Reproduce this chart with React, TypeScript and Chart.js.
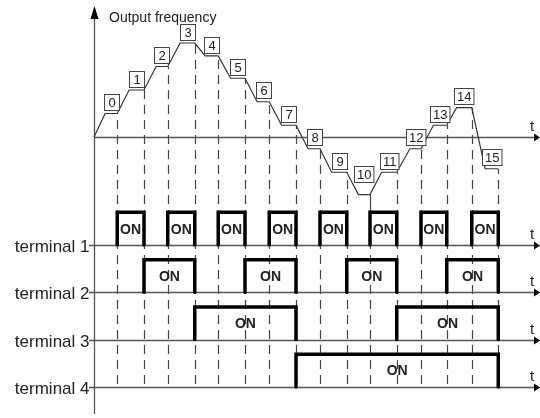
import React, { useEffect, useRef } from 'react';
import { Chart, registerables } from 'chart.js';

Chart.register(...registerables);

// ---- data ----
const stepLabels = ['0', '1', '2', '3', '4', '5', '6', '7', '8', '9', '10', '11', '12', '13', '14', '15'];
// times where each step ends (index 0 = start of time)
const stepBoundaries = [0, 0.92, 1.98, 2.92, 3.99, 4.92, 5.98, 6.94, 8.0, 8.95, 10.01, 10.93, 11.99, 12.95, 13.97, 14.96, 16.01];
// times where the acceleration / deceleration ramp reaches the step frequency
const plateauStarts = [0.44, 1.39, 2.46, 3.41, 4.4, 5.41, 6.46, 7.43, 8.48, 9.41, 10.47, 11.39, 12.51, 13.44, 14.36, 15.49];
// output frequency of each step (relative units)
const frequencyLevels = [10, 20, 30, 40, 34.5, 25, 15, 5, -5, -15, -24.5, -15, -5, 5, 12.5, -13.5];

const terminalNames = ['terminal 1', 'terminal 2', 'terminal 3', 'terminal 4'];
const terminal1 = [0, 1, 0, 1, 0, 1, 0, 1, 0, 1, 0, 1, 0, 1, 0, 1];
const terminal2 = [0, 0, 1, 1, 0, 0, 1, 1, 0, 0, 1, 1, 0, 0, 1, 1];
const terminal3 = [0, 0, 0, 0, 1, 1, 1, 1, 0, 0, 0, 0, 1, 1, 1, 1];
const terminal4 = [0, 0, 0, 0, 0, 0, 0, 0, 1, 1, 1, 1, 1, 1, 1, 1];
const terminalStates = [terminal1, terminal2, terminal3, terminal4];

const onLabel = 'ON';
const axisTitle = 'Output frequency';
const timeLabel = 't';

// ---- layout constants ----
const W = 540;
const H = 418;
const X_MIN = -3.723;
const X_MAX = 17.663;
const Y_MIN = -119.57;
const Y_MAX = 58.3;
const YT_MIN = -4.6575;
const YT_MAX = 4.1797;
const ON_HEIGHT = 0.69;
const FONT = '"Liberation Sans", Arial, Helvetica, sans-serif';
const GRAY = '#555';
const AXIS_END = 535;

function buildFrequencyPoints() {
  const pts: { x: number; y: number }[] = [{ x: stepBoundaries[0], y: 0 }];
  for (let k = 0; k < frequencyLevels.length; k++) {
    pts.push({ x: plateauStarts[k], y: frequencyLevels[k] });
    pts.push({ x: stepBoundaries[k + 1], y: frequencyLevels[k] });
  }
  return pts;
}

function buildTerminalPoints(states: number[], row: number) {
  const base = -(row + 1);
  const high = base + ON_HEIGHT;
  const pts: { x: number; y: number | null }[] = [];
  let k = 0;
  while (k < states.length) {
    if (states[k] === 1) {
      let e = k;
      while (e + 1 < states.length && states[e + 1] === 1) e++;
      const x0 = stepBoundaries[k];
      const x1 = stepBoundaries[e + 1];
      pts.push({ x: x0, y: base }, { x: x0, y: high }, { x: x1, y: high }, { x: x1, y: base });
      pts.push({ x: (x1 + x1) / 2, y: null });
      k = e + 1;
    } else k++;
  }
  return pts;
}

function isLocalMin(k: number) {
  return k > 0 && k < frequencyLevels.length - 1 &&
    frequencyLevels[k] < frequencyLevels[k - 1] && frequencyLevels[k] < frequencyLevels[k + 1];
}

const diagramPlugin = {
  id: 'timingDiagram',
  beforeDatasetsDraw(chart: any) {
    const ctx: CanvasRenderingContext2D = chart.ctx;
    const xs = chart.scales.x;
    const ys = chart.scales.y;
    const yt = chart.scales.yT;
    const x0 = xs.getPixelForValue(0);
    ctx.save();

    // dashed step boundaries
    ctx.strokeStyle = '#444';
    ctx.lineWidth = 1.2;
    const bottom = yt.getPixelForValue(-terminalNames.length);
    for (let k = 1; k < stepBoundaries.length; k++) {
      const x = Math.round(xs.getPixelForValue(stepBoundaries[k])) + 0.5;
      let top = ys.getPixelForValue(frequencyLevels[k - 1]);
      if (isLocalMin(k - 1)) {
        const t1 = yt.getPixelForValue(-1 + ON_HEIGHT);
        ctx.setLineDash([]);
        ctx.beginPath();
        ctx.moveTo(x, top);
        ctx.lineTo(x, t1);
        ctx.stroke();
        top = t1;
      }
      ctx.setLineDash([9, 6]);
      ctx.lineDashOffset = top % 15;
      ctx.beginPath();
      ctx.moveTo(x, top);
      ctx.lineTo(x, bottom);
      ctx.stroke();
    }
    ctx.setLineDash([]);

    // horizontal time axes
    ctx.strokeStyle = GRAY;
    ctx.lineWidth = 1.3;
    const fy = Math.round(ys.getPixelForValue(0)) + 0.5;
    ctx.beginPath();
    ctx.moveTo(x0, fy);
    ctx.lineTo(AXIS_END, fy);
    ctx.stroke();
    for (let i = 0; i < terminalNames.length; i++) {
      const by = Math.round(yt.getPixelForValue(-(i + 1))) + 0.5;
      ctx.beginPath();
      ctx.moveTo(x0 - 5, by);
      ctx.lineTo(AXIS_END, by);
      ctx.stroke();
    }

    // vertical frequency axis
    ctx.beginPath();
    ctx.moveTo(Math.round(x0) + 0.5, 16);
    ctx.lineTo(Math.round(x0) + 0.5, 414);
    ctx.stroke();
    ctx.restore();
  },
  afterDatasetsDraw(chart: any) {
    const ctx: CanvasRenderingContext2D = chart.ctx;
    const xs = chart.scales.x;
    const ys = chart.scales.y;
    const yt = chart.scales.yT;
    const x0 = Math.round(xs.getPixelForValue(0)) + 0.5;
    ctx.save();

    // step number boxes
    ctx.font = `13px ${FONT}`;
    ctx.textAlign = 'center';
    ctx.textBaseline = 'middle';
    for (let k = 0; k < stepLabels.length; k++) {
      const a = xs.getPixelForValue(plateauStarts[k]);
      const b = xs.getPixelForValue(stepBoundaries[k + 1]);
      const py = ys.getPixelForValue(frequencyLevels[k]);
      const cx = (a + b) / 2;
      const tw = ctx.measureText(stepLabels[k]).width;
      const bw = Math.max(15, tw + 5);
      const bh = 16;
      const lift = isLocalMin(k) ? 12.3 : 3.3;
      const by = py - lift - bh;
      const bx = Math.round(cx - bw / 2) + 0.5;
      const byr = Math.round(by) + 0.5;
      ctx.fillStyle = '#fff';
      ctx.fillRect(bx, byr, bw, bh);
      ctx.strokeStyle = '#444';
      ctx.lineWidth = 1;
      ctx.strokeRect(bx, byr, bw, bh);
      ctx.fillStyle = '#222';
      ctx.fillText(stepLabels[k], bx + bw / 2, byr + bh / 2 + 1);
    }

    // ON labels
    ctx.font = `bold 14px ${FONT}`;
    ctx.fillStyle = '#222';
    terminalStates.forEach((states, i) => {
      const base = -(i + 1);
      const midY = yt.getPixelForValue(base + ON_HEIGHT / 2);
      let k = 0;
      while (k < states.length) {
        if (states[k] === 1) {
          let e = k;
          while (e + 1 < states.length && states[e + 1] === 1) e++;
          const a = xs.getPixelForValue(stepBoundaries[k]);
          const b = xs.getPixelForValue(stepBoundaries[e + 1]);
          ctx.fillText(onLabel, (a + b) / 2, midY + 1);
          k = e + 1;
        } else k++;
      }
    });

    // terminal names
    ctx.font = `17px ${FONT}`;
    ctx.textAlign = 'right';
    ctx.textBaseline = 'alphabetic';
    ctx.fillStyle = '#222';
    terminalNames.forEach((name, i) => {
      const by = yt.getPixelForValue(-(i + 1));
      ctx.fillText(name, x0 - 5, by + 7);
    });

    // axis title
    ctx.font = `14px ${FONT}`;
    ctx.textAlign = 'left';
    ctx.fillText(axisTitle, 109, 21.5);

    // arrows and t labels
    ctx.fillStyle = '#000';
    ctx.beginPath();
    ctx.moveTo(x0, 6);
    ctx.lineTo(x0 - 4, 19);
    ctx.lineTo(x0 + 4, 19);
    ctx.closePath();
    ctx.fill();

    const axisYs = [ys.getPixelForValue(0)];
    for (let i = 0; i < terminalNames.length; i++) axisYs.push(yt.getPixelForValue(-(i + 1)));
    ctx.font = `15px ${FONT}`;
    ctx.textAlign = 'center';
    axisYs.forEach((y) => {
      const yy = Math.round(y) + 0.5;
      ctx.fillStyle = '#000';
      ctx.beginPath();
      ctx.moveTo(540, yy);
      ctx.lineTo(534, yy - 4);
      ctx.lineTo(534, yy + 4);
      ctx.closePath();
      ctx.fill();
      ctx.fillStyle = '#222';
      ctx.fillText(timeLabel, 532, yy - 7);
    });
    ctx.restore();
  },
};

export default function App() {
  const canvasRef = useRef<HTMLCanvasElement | null>(null);

  useEffect(() => {
    const canvas = canvasRef.current;
    if (!canvas) return;
    const datasets: any[] = [
      {
        label: 'Output frequency',
        data: buildFrequencyPoints(),
        xAxisID: 'x',
        yAxisID: 'y',
        borderColor: '#333',
        borderWidth: 1.2,
        pointRadius: 0,
        tension: 0,
        fill: false,
      },
    ];
    terminalStates.forEach((states, i) => {
      datasets.push({
        label: terminalNames[i],
        data: buildTerminalPoints(states, i),
        xAxisID: 'x',
        yAxisID: 'yT',
        borderColor: '#000',
        borderWidth: 3.5,
        borderCapStyle: 'round',
        borderJoinStyle: 'miter',
        pointRadius: 0,
        tension: 0,
        fill: false,
        spanGaps: false,
      });
    });

    const chart = new Chart(canvas, {
      type: 'line',
      data: { datasets },
      options: {
        animation: false,
        responsive: false,
        maintainAspectRatio: false,
        devicePixelRatio: 1,
        layout: { padding: 0 },
        plugins: { legend: { display: false }, tooltip: { enabled: false }, title: { display: false } },
        scales: {
          x: { type: 'linear', min: X_MIN, max: X_MAX, display: false },
          y: { type: 'linear', min: Y_MIN, max: Y_MAX, display: false },
          yT: { type: 'linear', min: YT_MIN, max: YT_MAX, display: false },
        },
      },
      plugins: [diagramPlugin],
    });
    return () => chart.destroy();
  }, []);

  return (
    <div style={{ position: 'fixed', left: 0, top: 0, width: W, height: H, background: '#fff' }}>
      <canvas ref={canvasRef} width={W} height={H} style={{ display: 'block', width: W, height: H }} />
    </div>
  );
}
